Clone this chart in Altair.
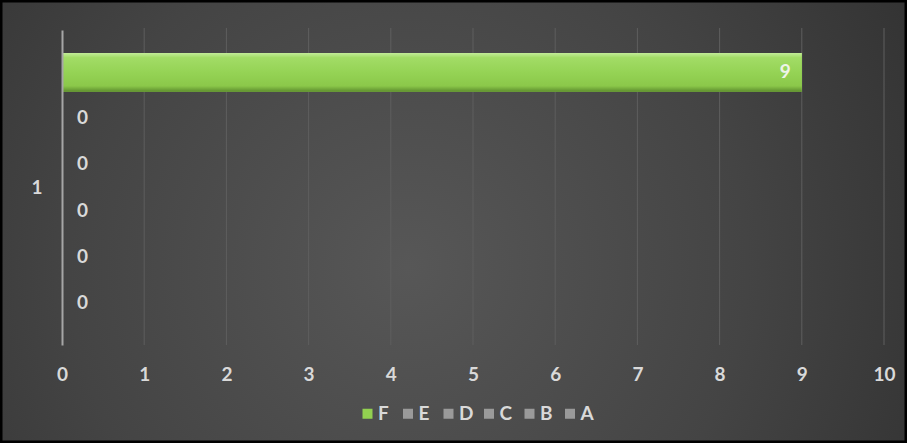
import altair as alt
import pandas as pd

# ---- data ----
series = ["F", "E", "D", "C", "B", "A"]
values = [9, 0, 0, 0, 0, 0]
category = "1"
x_ticks = list(range(0, 11))

df = pd.DataFrame({"cat": [category] * len(series), "series": series, "value": values})
grid_df = pd.DataFrame({"t": x_ticks[1:]})
bg_df = pd.DataFrame({"k": [0]})

# ---- layout ----
FULL_W, FULL_H = 907, 443
PL, PT, PR, PB = 62, 30, 23, 98
W, H = FULL_W - PL - PR, FULL_H - PT - PB

FONT = "Lato"
FS = 19
LABEL = "#d9d9d9"
GREEN = "#92d050"
GRAY = "#9a9a9a"

xscale = alt.Scale(domain=[0, 10], nice=False)
yscale = alt.Scale(paddingOuter=0.07, paddingInner=0)
yoff_scale = alt.Scale(domain=series, paddingInner=0.16, paddingOuter=0.08)

x_axis = alt.Axis(title=None, values=x_ticks, grid=False, domain=False, ticks=False,
                  tickSize=0, labelPadding=20, labelColor=LABEL, labelFont=FONT,
                  labelFontWeight="bold", labelFontSize=FS, labelFlush=False,
                  format="d", zindex=1)
y_axis = alt.Axis(title=None, labelAngle=0, ticks=False, tickSize=0, domain=True,
                  domainColor="#a6a6a6", domainWidth=2, labelColor=LABEL,
                  labelFont=FONT, labelFontWeight="bold", labelFontSize=FS,
                  labelPadding=20, zindex=1)


def X(field):
    return alt.X(field, scale=xscale, axis=x_axis)


Y = alt.Y("cat:N", scale=yscale, axis=y_axis)
YO = alt.YOffset("series:N", scale=yoff_scale, sort=series)

bg_fill = alt.RadialGradient(
    gradient="radial",
    stops=[alt.GradientStop(color="#575757", offset=0),
           alt.GradientStop(color="#444444", offset=0.5),
           alt.GradientStop(color="#2b2b2b", offset=1)],
    x1=0.45, y1=0.55, r1=0, x2=0.45, y2=0.55, r2=0.75,
)

bar_fill = alt.LinearGradient(
    gradient="linear",
    stops=[alt.GradientStop(color="#c2ec98", offset=0),
           alt.GradientStop(color="#a2dc66", offset=0.12),
           alt.GradientStop(color="#95d355", offset=0.5),
           alt.GradientStop(color="#8bc84a", offset=0.85),
           alt.GradientStop(color="#5e8e2e", offset=1)],
    x1=0, y1=0, x2=0, y2=1,
)

background = alt.Chart(bg_df).mark_rect(
    fill=bg_fill, stroke="black", strokeWidth=2.5
).encode(
    x=alt.value(-PL + 1.25), x2=alt.value(FULL_W - PL - 1.25),
    y=alt.value(-PT + 1.25), y2=alt.value(FULL_H - PT - 1.25),
)

grid = alt.Chart(grid_df).mark_rule(color="#5e5e5e", strokeWidth=1).encode(
    x=X("t:Q"), y=alt.value(-2), y2=alt.value(H),
)

bars = alt.Chart(df).mark_bar().encode(
    x=X("value:Q"), y=Y, yOffset=YO,
    color=alt.Color(
        "series:N",
        scale=alt.Scale(domain=series, range=[GREEN] + [GRAY] * (len(series) - 1)),
        legend=alt.Legend(
            title=None, orient="none", legendX=296, legendY=374,
            direction="horizontal", symbolType="square", symbolSize=100,
            symbolStrokeWidth=0, labelColor=LABEL, labelFont=FONT,
            labelFontWeight="bold", labelFontSize=FS, labelOffset=1,
            columnPadding=5.5, gridAlign="all", zindex=1,
        ),
    ),
)

bars_grad = alt.Chart(df).transform_filter("datum.value > 0").mark_bar(
    fill=bar_fill
).encode(x=X("value:Q"), y=Y, yOffset=YO)

text_pos = alt.Chart(df).transform_filter("datum.value > 0").mark_text(
    align="right", baseline="middle", dx=-11, font=FONT, fontWeight="bold",
    fontSize=FS, color="#eef4e8",
).encode(x=X("value:Q"), y=Y, yOffset=YO, text="value:Q")

text_zero = alt.Chart(df).transform_filter("datum.value == 0").mark_text(
    align="left", baseline="middle", dx=15, font=FONT, fontWeight="bold",
    fontSize=FS, color=LABEL,
).encode(x=X("value:Q"), y=Y, yOffset=YO, text="value:Q")

chart = alt.layer(background, grid, bars, bars_grad, text_pos, text_zero).properties(
    width=W, height=H,
    autosize=alt.AutoSizeParams(type="none"),
    padding={"left": PL, "top": PT, "right": PR, "bottom": PB},
    background="white",
).configure_view(stroke=None)

chart.save("out.html", embed_options={"renderer": "svg", "actions": False})
